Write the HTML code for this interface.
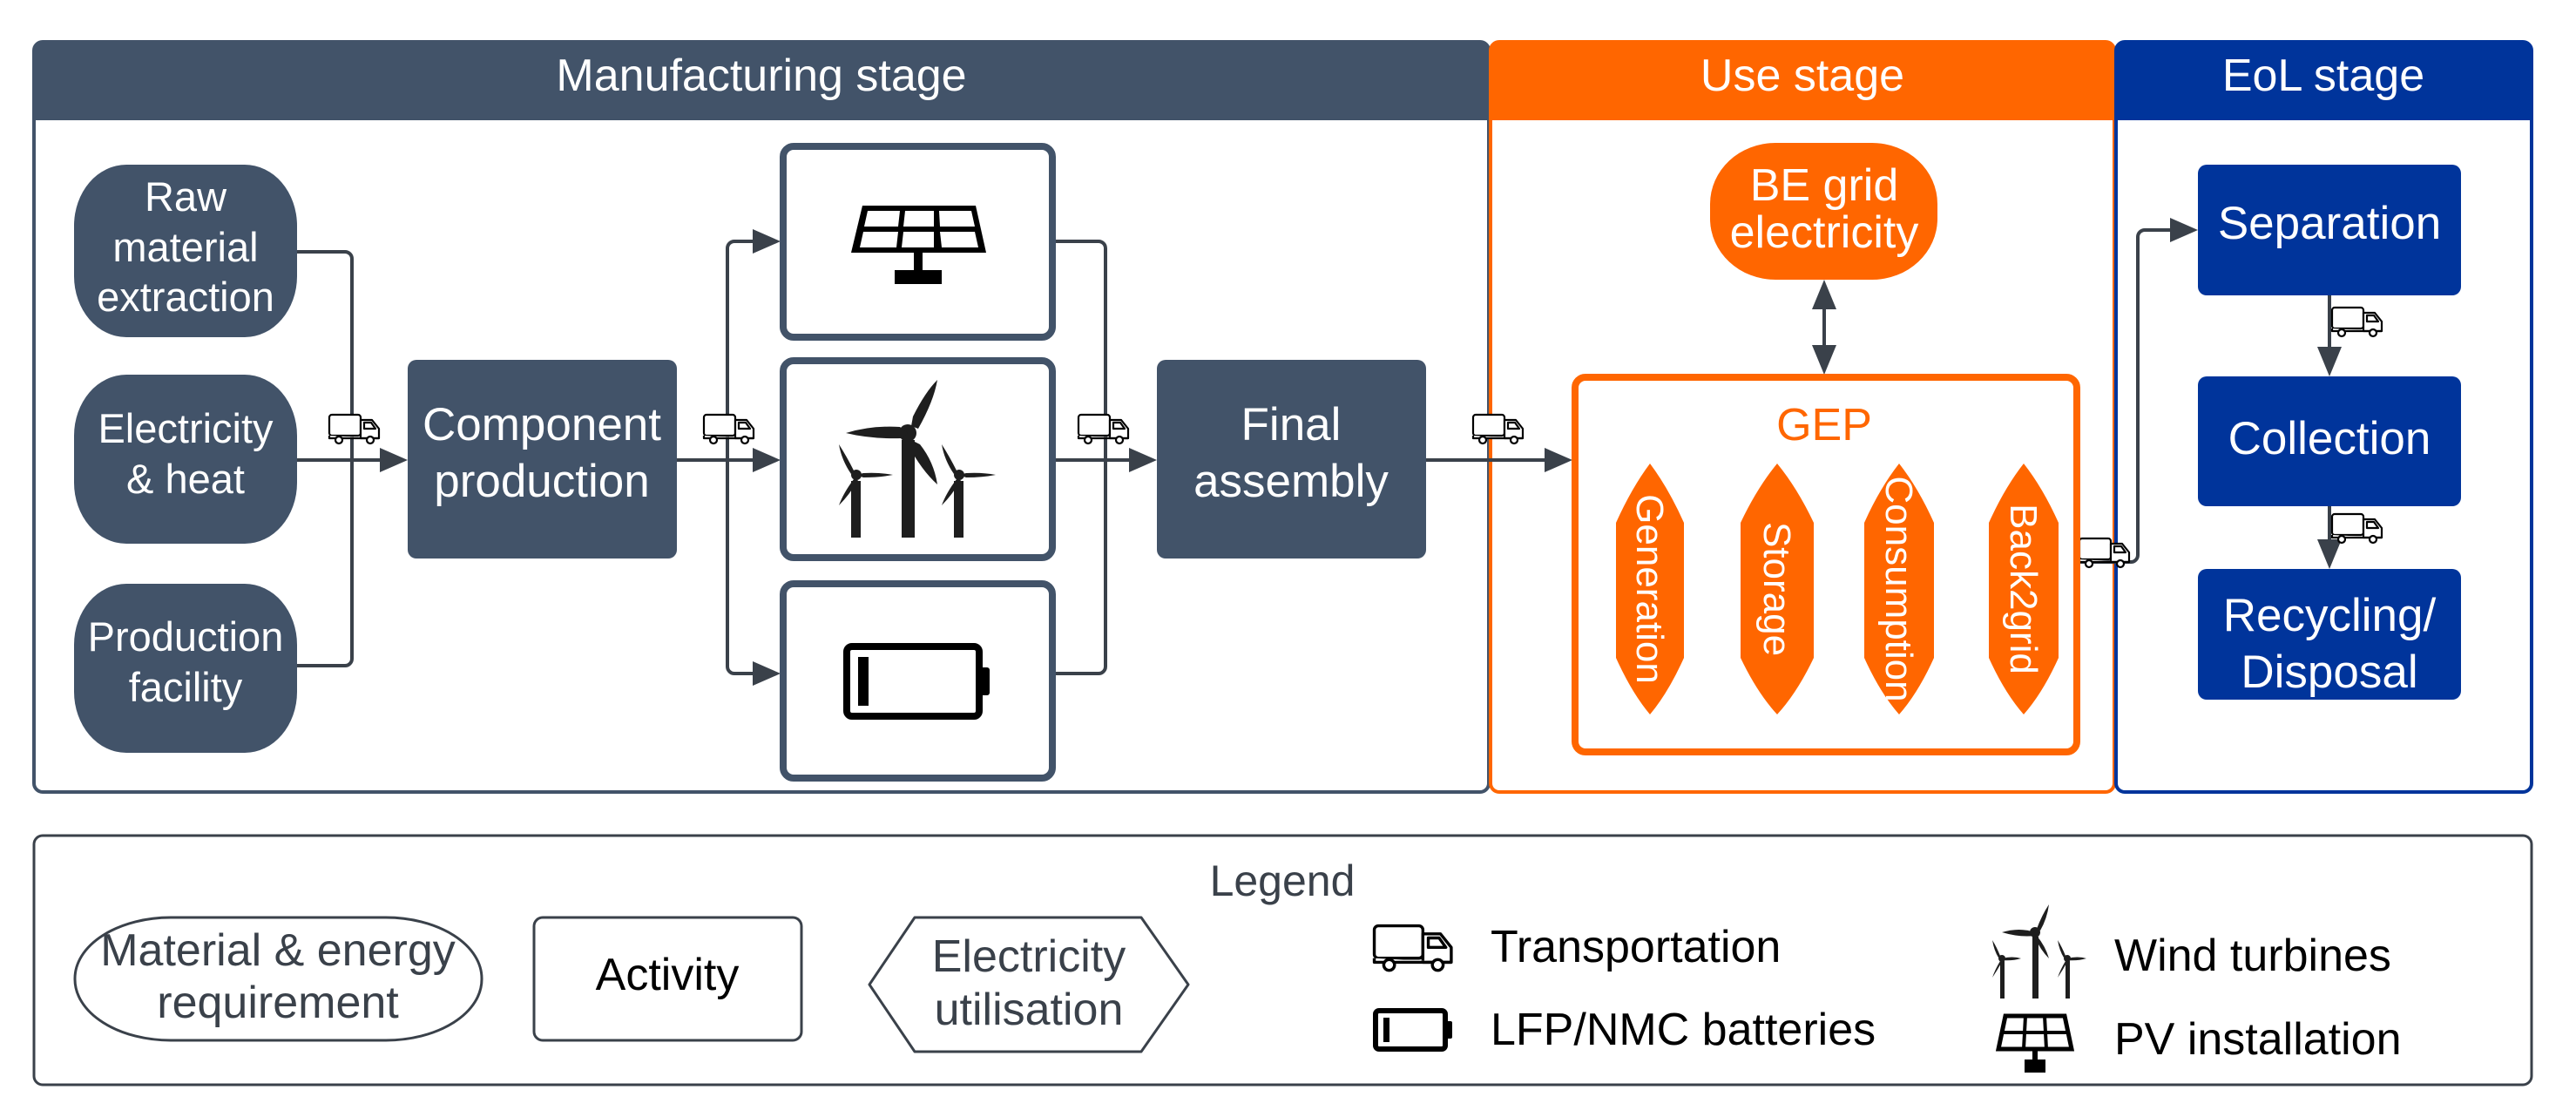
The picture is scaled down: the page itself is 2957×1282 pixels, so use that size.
<!DOCTYPE html>
<html><head><meta charset="utf-8"><style>
html,body{margin:0;padding:0;background:#fff;}
svg{display:block;}
text{font-family:"Liberation Sans",sans-serif;}
</style></head><body>
<svg width="2957" height="1282" viewBox="0 0 2957 1282" xmlns="http://www.w3.org/2000/svg">
<defs>
<g id="truck" fill="#fff" stroke="#000" stroke-width="2.2" stroke-linejoin="round">
<rect x="1" y="1" width="36" height="24" rx="3"/>
<path d="M37 7 H50 L58 17 V28 H37 Z"/>
<path d="M41 10 H49 L54 17 H41 Z"/>
<path d="M1 25 V28 H58"/>
<circle cx="12" cy="30" r="4"/>
<circle cx="48" cy="30" r="4"/>
</g>
</defs>

<!-- Manufacturing frame -->
<rect x="39" y="48" width="1670" height="861" rx="10" fill="#fff" stroke="#425369" stroke-width="4"/>
<path d="M39 138 V58 a10 10 0 0 1 10 -10 H1699 a10 10 0 0 1 10 10 V138 Z" fill="#425369"/>
<text x="874" y="104" font-size="52" fill="#fff" text-anchor="middle">Manufacturing stage</text>

<!-- Use frame -->
<rect x="1711" y="48" width="716" height="861" rx="10" fill="#fff" stroke="#ff6600" stroke-width="4"/>
<path d="M1711 138 V58 a10 10 0 0 1 10 -10 H2417 a10 10 0 0 1 10 10 V138 Z" fill="#ff6600"/>
<text x="2069" y="104" font-size="52" fill="#fff" text-anchor="middle">Use stage</text>

<!-- EoL frame -->
<rect x="2429" y="48" width="477" height="861" rx="10" fill="#fff" stroke="#00349b" stroke-width="4"/>
<path d="M2429 138 V58 a10 10 0 0 1 10 -10 H2896 a10 10 0 0 1 10 10 V138 Z" fill="#00349b"/>
<text x="2667" y="104" font-size="52" fill="#fff" text-anchor="middle">EoL stage</text>

<!-- connectors -->
<g fill="none" stroke="#3a414a" stroke-width="4" stroke-linejoin="round">
<path d="M341 289 H396 a8 8 0 0 1 8 8 V756 a8 8 0 0 1 -8 8 H341"/>
<path d="M341 528 H440"/>
<path d="M777 528 H870"/>
<path d="M870 277 H843 a8 8 0 0 0 -8 8 V765 a8 8 0 0 0 8 8 H870"/>
<path d="M1207 277 H1261 a8 8 0 0 1 8 8 V765 a8 8 0 0 1 -8 8 H1207"/>
<path d="M1207 528 H1300"/>
<path d="M1637 528 H1778"/>
<path d="M2094 350 V402"/>
<path d="M2384 645 H2446 a8 8 0 0 0 8 -8 V272 a8 8 0 0 1 8 -8 H2496"/>
<path d="M2674 339 V404"/>
<path d="M2674 581 V626"/>
</g>
<g fill="#3a414a">
<path d="M468 528 l-32 -14 v28 z"/>
<path d="M896 277 l-32 -14 v28 z"/>
<path d="M896 528 l-32 -14 v28 z"/>
<path d="M896 773 l-32 -14 v28 z"/>
<path d="M1328 528 l-32 -14 v28 z"/>
<path d="M1805 528 l-32 -14 v28 z"/>
<path d="M2523 264 l-32 -14 v28 z"/>
<path d="M2094 321 l-14 34 h28 z"/>
<path d="M2094 430 l-14 -34 h28 z"/>
<path d="M2674 432 l-14 -34 h28 z"/>
<path d="M2674 653 l-14 -34 h28 z"/>
</g>

<!-- trucks -->
<use href="#truck" x="377" y="475"/>
<use href="#truck" x="807" y="475"/>
<use href="#truck" x="1237" y="475"/>
<use href="#truck" x="1690" y="475"/>
<use href="#truck" x="2386" y="617"/>
<use href="#truck" x="2676" y="352"/>
<use href="#truck" x="2676" y="589"/>

<!-- Material nodes -->
<g fill="#425369">
<rect x="85" y="189" width="256" height="198" rx="60" ry="70"/>
<rect x="85" y="430" width="256" height="194" rx="60" ry="70"/>
<rect x="85" y="670" width="256" height="194" rx="60" ry="70"/>
<rect x="468" y="413" width="309" height="228" rx="10"/>
<rect x="1328" y="413" width="309" height="228" rx="10"/>
</g>
<g fill="#fff" font-size="47" text-anchor="middle">
<text x="213" y="242">Raw</text>
<text x="213" y="300">material</text>
<text x="213" y="357">extraction</text>
<text x="213" y="508">Electricity</text>
<text x="213" y="566">&amp; heat</text>
<text x="213" y="747">Production</text>
<text x="213" y="805">facility</text>
</g>
<g fill="#fff" font-size="53" text-anchor="middle">
<text x="622" y="505">Component</text>
<text x="622" y="570">production</text>
<text x="1482" y="505">Final</text>
<text x="1482" y="570">assembly</text>
</g>

<!-- component boxes -->
<g fill="#fff" stroke="#425369" stroke-width="8">
<rect x="899" y="168" width="309" height="219" rx="12"/>
<rect x="899" y="414" width="309" height="226" rx="12"/>
<rect x="899" y="670" width="309" height="223" rx="12"/>
</g>
<!-- PV -->
<g>
<path d="M990 236 H1120 L1132 290 H977 Z" fill="#000"/>
<g fill="#fff">
<path d="M996 242 H1033 L1031 260 H992 Z"/>
<path d="M1039 242 H1072 L1072 260 H1037 Z"/>
<path d="M1078 242 H1115 L1119 260 H1079 Z"/>
<path d="M991 266 H1031 L1029 284 H987 Z"/>
<path d="M1037 266 H1072 L1072 284 H1035 Z"/>
<path d="M1079 266 H1119 L1123 284 H1081 Z"/>
</g>
<rect x="1049" y="290" width="10" height="22" fill="#000"/>
<rect x="1027" y="310" width="54" height="16" fill="#000"/>
</g>
<!-- wind -->
<g fill="#1e1e1e">
<rect x="1035" y="505" width="15" height="112"/>
<rect x="977" y="552" width="11" height="65"/>
<rect x="1095" y="552" width="11" height="65"/>
<circle cx="1042" cy="497" r="10"/>
<path d="M1042 497 L1033 490 Q1000 488 971 497 Q1000 504 1035 503 Z"/>
<path d="M1046 489 L1048 478 Q1062 450 1076 436 Q1072 460 1054 492 Z"/>
<path d="M1046 505 L1056 510 Q1072 530 1076 556 Q1058 540 1042 510 Z"/>
<circle cx="983" cy="545" r="6"/>
<path d="M983 545 L991 543 Q1010 542 1025 545 Q1010 548 991 548 Z"/>
<path d="M980 540 Q972 524 963 510 Q966 528 977 544 Z"/>
<path d="M980 550 Q968 566 963 580 Q975 568 985 551 Z"/>
<circle cx="1101" cy="545" r="6"/>
<path d="M1101 545 L1109 543 Q1128 542 1143 545 Q1128 548 1109 548 Z"/>
<path d="M1098 540 Q1090 524 1081 510 Q1084 528 1095 544 Z"/>
<path d="M1098 550 Q1086 566 1081 580 Q1093 568 1103 551 Z"/>
</g>
<!-- battery -->
<g>
<rect x="972" y="742" width="152" height="80" rx="6" fill="none" stroke="#000" stroke-width="8"/>
<rect x="1124" y="766" width="12" height="32" rx="3" fill="#000"/>
<rect x="985" y="754" width="12" height="56" fill="#000"/>
</g>

<!-- Use stage -->
<rect x="1963" y="164" width="261" height="157" rx="75" ry="70" fill="#ff6600"/>
<text x="2094" y="230" font-size="52" fill="#fff" text-anchor="middle">BE grid</text>
<text x="2094" y="284" font-size="52" fill="#fff" text-anchor="middle">electricity</text>
<rect x="1808" y="433" width="576" height="430" rx="12" fill="#fff" stroke="#ff6600" stroke-width="8"/>
<text x="2094" y="505" font-size="52" fill="#ff6600" text-anchor="middle">GEP</text>
<g fill="#ff6600">
<path d="M1894 532 Q1915 560 1933 600 V755 Q1915 795 1894 820 Q1873 795 1855 755 V600 Q1873 560 1894 532 Z"/>
<path d="M2040 532 Q2063 560 2082 600 V755 Q2063 795 2040 820 Q2017 795 1998 755 V600 Q2017 560 2040 532 Z"/>
<path d="M2180 532 Q2202 560 2220 600 V755 Q2202 795 2180 820 Q2158 795 2140 755 V600 Q2158 560 2180 532 Z"/>
<path d="M2323 532 Q2345 560 2363 600 V755 Q2345 795 2323 820 Q2301 795 2283 755 V600 Q2301 560 2323 532 Z"/>
</g>
<g fill="#fff" font-size="44" text-anchor="middle">
<text transform="translate(1879 676) rotate(90)">Generation</text>
<text transform="translate(2025 676) rotate(90)">Storage</text>
<text transform="translate(2165 676) rotate(90)">Consumption</text>
<text transform="translate(2308 676) rotate(90)">Back2grid</text>
</g>

<!-- EoL -->
<g fill="#00349b">
<rect x="2523" y="189" width="302" height="150" rx="10"/>
<rect x="2523" y="432" width="302" height="149" rx="10"/>
<rect x="2523" y="653" width="302" height="150" rx="10"/>
</g>
<g fill="#fff" font-size="53" text-anchor="middle">
<text x="2674" y="274">Separation</text>
<text x="2674" y="521">Collection</text>
<text x="2674" y="724">Recycling/</text>
<text x="2674" y="789">Disposal</text>
</g>

<!-- Legend -->
<rect x="39" y="959" width="2867" height="286" rx="10" fill="#fff" stroke="#3a414a" stroke-width="3"/>
<text x="1472" y="1028" font-size="50" fill="#3a414a" text-anchor="middle">Legend</text>
<rect x="86" y="1053" width="467" height="141" rx="110" ry="70" fill="#fff" stroke="#3a414a" stroke-width="3"/>
<text x="319" y="1108" font-size="52" fill="#3a414a" text-anchor="middle">Material &amp; energy</text>
<text x="319" y="1168" font-size="52" fill="#3a414a" text-anchor="middle">requirement</text>
<rect x="613" y="1053" width="307" height="141" rx="10" fill="#fff" stroke="#3a414a" stroke-width="3"/>
<text x="766" y="1136" font-size="52" fill="#000" text-anchor="middle">Activity</text>
<path d="M1050 1053 H1310 L1364 1130 L1310 1207 H1050 L998 1130 Z" fill="#fff" stroke="#3a414a" stroke-width="3" stroke-linejoin="round"/>
<text x="1181" y="1115" font-size="52" fill="#3a414a" text-anchor="middle">Electricity</text>
<text x="1181" y="1176" font-size="52" fill="#3a414a" text-anchor="middle">utilisation</text>

<use href="#truck" transform="translate(1576 1061) scale(1.55)"/>
<text x="1711" y="1104" font-size="52" fill="#000">Transportation</text>
<rect x="1579" y="1160" width="80" height="44" rx="4" fill="none" stroke="#000" stroke-width="6"/>
<rect x="1659" y="1172" width="8" height="20" rx="2" fill="#000"/>
<rect x="1588" y="1168" width="7" height="28" fill="#000"/>
<text x="1711" y="1199" font-size="52" fill="#000">LFP/NMC batteries</text>

<g fill="#1e1e1e">
<rect x="2333" y="1075" width="7" height="71"/>
<rect x="2296" y="1103" width="5" height="43"/>
<rect x="2371" y="1103" width="5" height="43"/>
<circle cx="2336" cy="1070" r="6"/>
<path d="M2336 1070 Q2318 1064 2298 1070 Q2318 1076 2336 1074 Z"/>
<path d="M2338 1066 Q2344 1050 2352 1038 Q2350 1054 2342 1068 Z"/>
<path d="M2338 1074 Q2348 1086 2352 1100 Q2342 1090 2336 1076 Z"/>
<circle cx="2298" cy="1100" r="4"/>
<path d="M2298 1100 Q2310 1097 2320 1100 Q2310 1103 2298 1102 Z"/>
<path d="M2296 1097 Q2292 1087 2287 1079 Q2289 1091 2294 1099 Z"/>
<path d="M2296 1103 Q2290 1113 2287 1122 Q2293 1113 2298 1104 Z"/>
<circle cx="2373" cy="1100" r="4"/>
<path d="M2373 1100 Q2385 1097 2395 1100 Q2385 1103 2373 1102 Z"/>
<path d="M2371 1097 Q2367 1087 2362 1079 Q2364 1091 2369 1099 Z"/>
<path d="M2371 1103 Q2365 1113 2362 1122 Q2368 1113 2373 1104 Z"/>
</g>
<text x="2427" y="1114" font-size="52" fill="#000">Wind turbines</text>
<g>
<path d="M2302 1166 H2370 L2378 1204 H2294 Z" fill="none" stroke="#000" stroke-width="5"/>
<path d="M2298 1185 H2374 M2325 1166 L2323 1204 M2347 1166 L2349 1204" stroke="#000" stroke-width="4"/>
<rect x="2333" y="1204" width="6" height="16" fill="#000"/>
<rect x="2324" y="1216" width="24" height="15" fill="#000"/>
</g>
<text x="2427" y="1210" font-size="52" fill="#000">PV installation</text>
</svg>
</body></html>
